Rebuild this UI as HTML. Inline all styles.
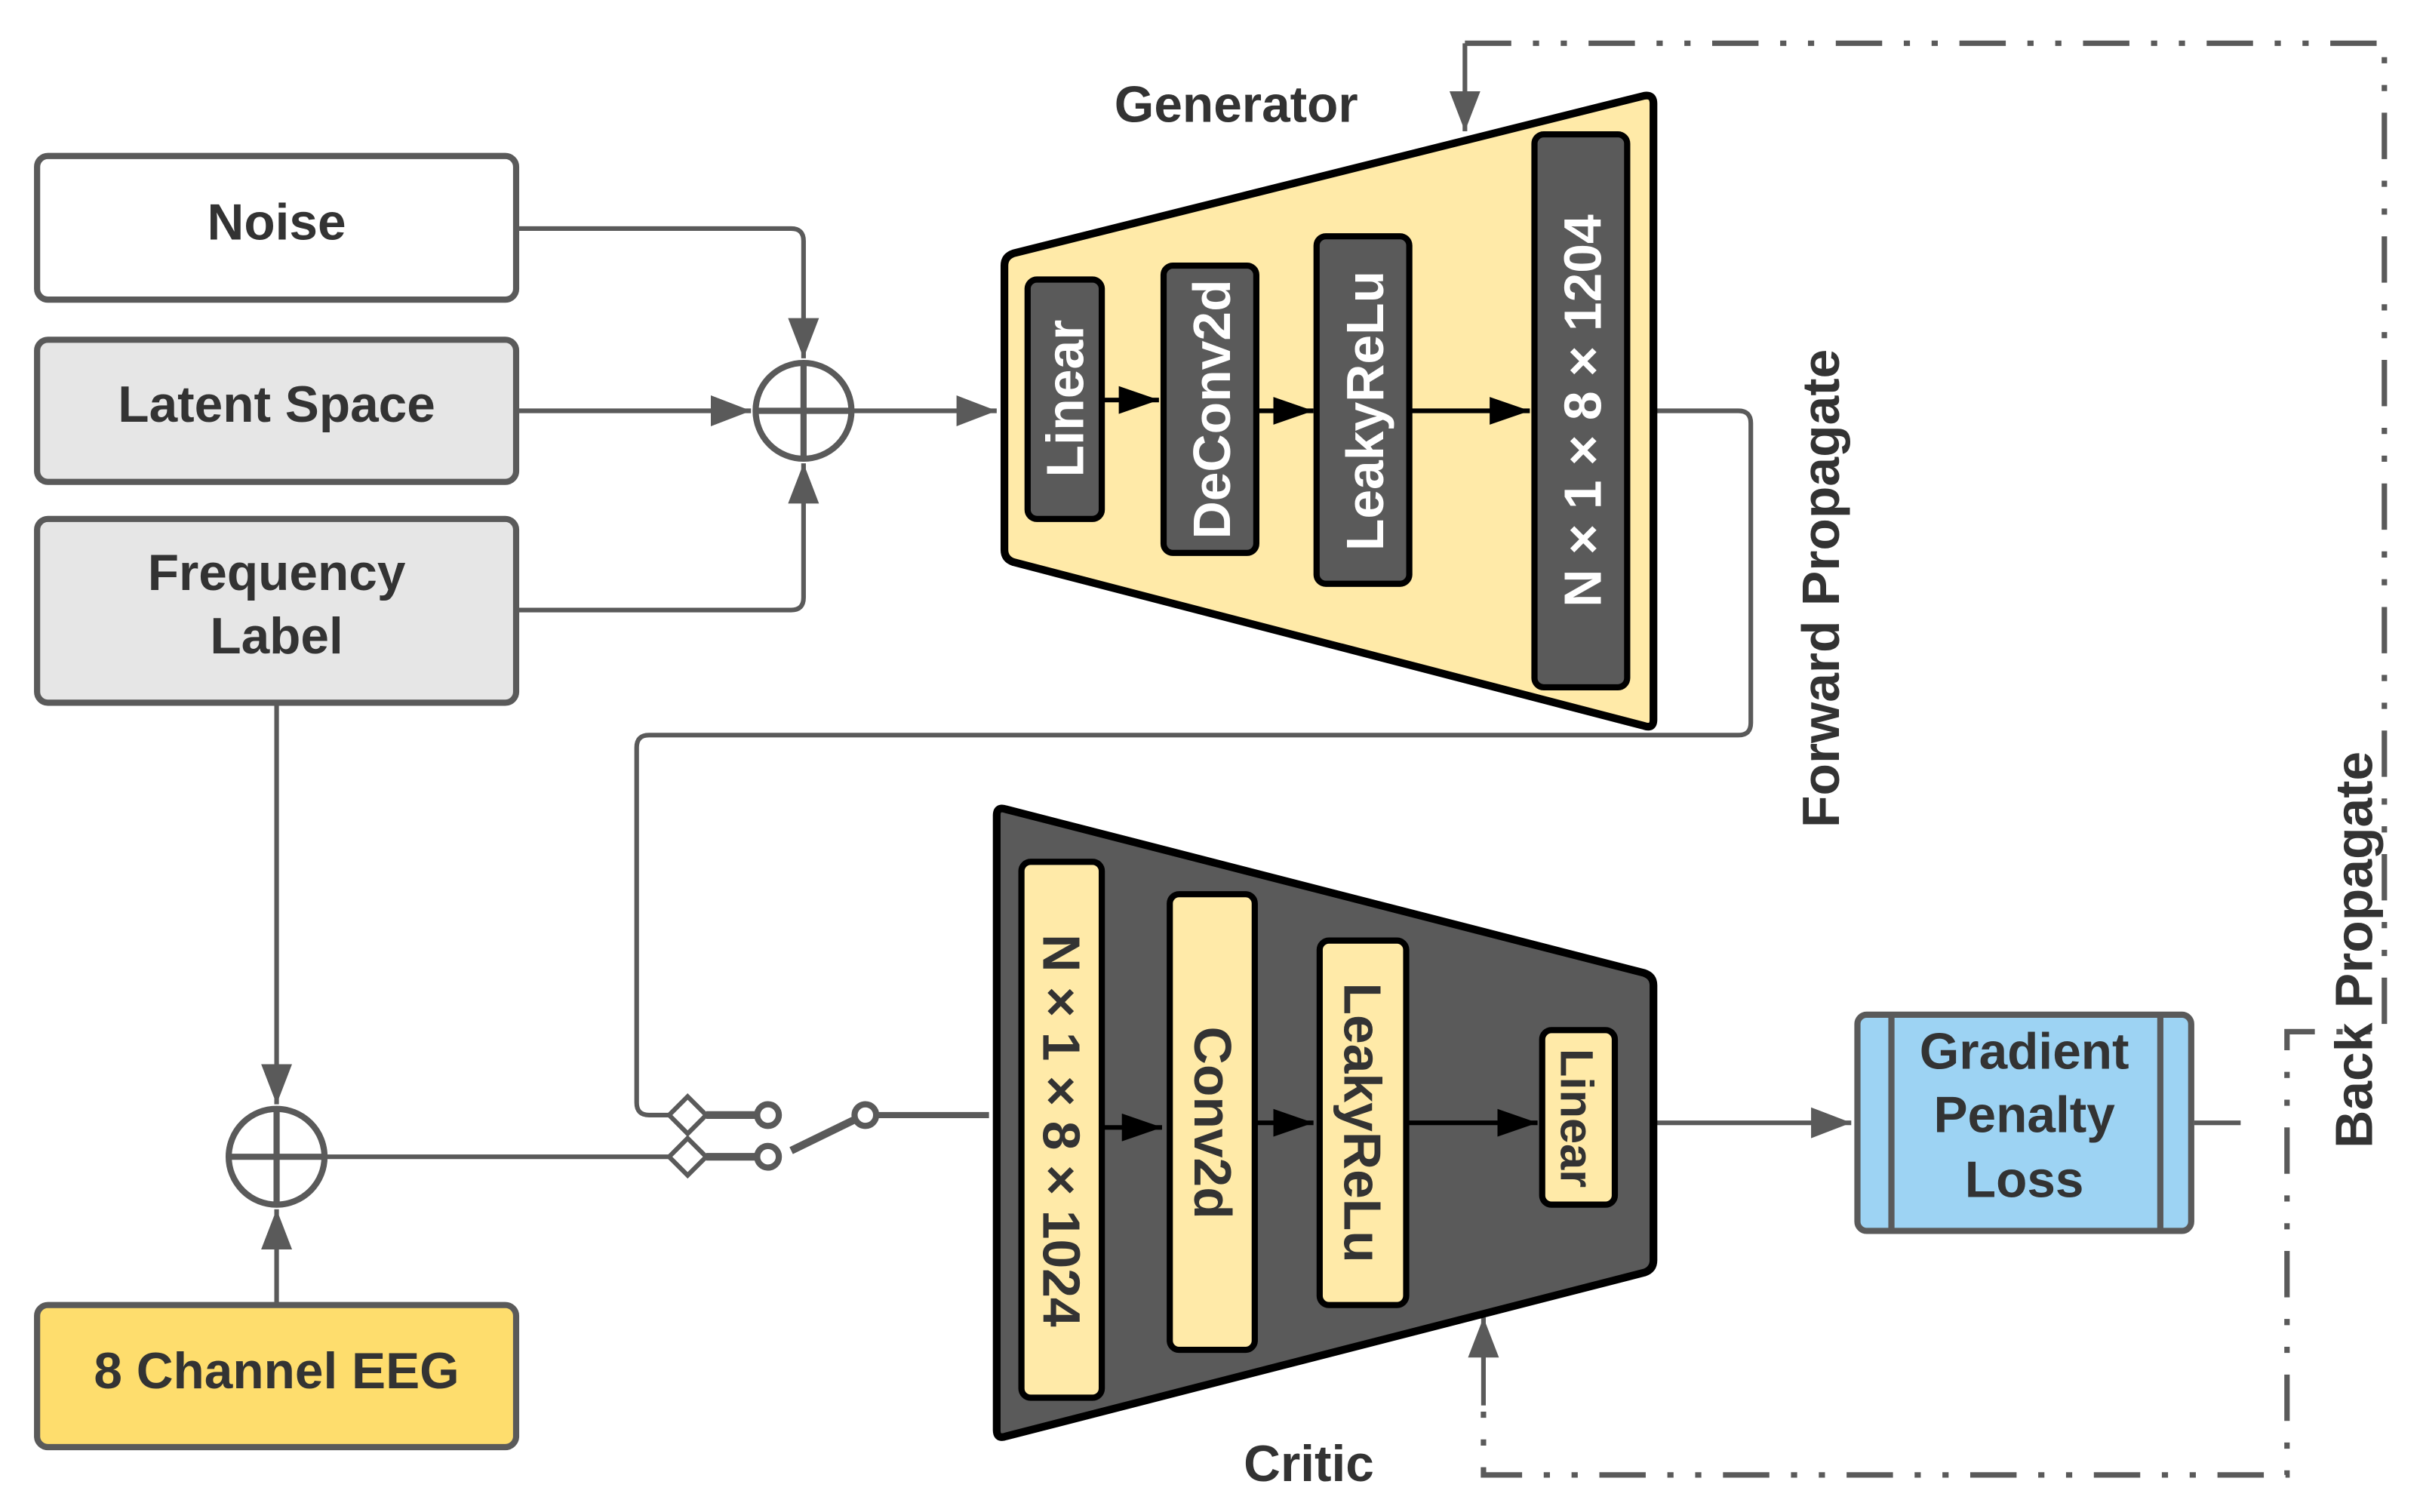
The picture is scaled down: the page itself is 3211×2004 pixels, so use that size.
<!DOCTYPE html>
<html><head><style>html,body{margin:0;padding:0;background:#fff}svg{display:block}</style></head>
<body>
<svg width="3211" height="2004" viewBox="0 0 1568 979" preserveAspectRatio="none" xmlns="http://www.w3.org/2000/svg" font-family="Liberation Sans, sans-serif" font-weight="bold">
<defs>
<marker id="ga" markerWidth="26" markerHeight="20" refX="26" refY="10" orient="auto" markerUnits="userSpaceOnUse"><path d="M0,0 L26,10 L0,20 z" fill="#5a5a5a"/></marker>
<marker id="ba" markerWidth="26" markerHeight="18" refX="26" refY="9" orient="auto" markerUnits="userSpaceOnUse"><path d="M0,0 L26,9 L0,18 z" fill="#000"/></marker>
</defs>
<g fill="none" stroke="#5a5a5a" stroke-width="3">
<path d="M334,148 H512 Q520,148 520,156 V232" marker-end="url(#ga)"/>
<path d="M334,266 H486" marker-end="url(#ga)"/>
<path d="M334,395 H512 Q520,395 520,387 V300" marker-end="url(#ga)"/>
<path d="M551,266 H645" marker-end="url(#ga)"/>
<path d="M1070,266 H1125 Q1133,266 1133,274 V468 Q1133,476 1125,476 H420 Q412,476 412,484 V714 Q412,722 420,722 H434"/>
<path d="M179,455 V715" marker-end="url(#ga)"/>
<path d="M179,845 V783" marker-end="url(#ga)"/>
<path d="M210,749 H434"/>
<path d="M1070,727 H1198" marker-end="url(#ga)"/>
<path d="M1420,727 H1450"/>
<path d="M948,28 V85" stroke-width="3" marker-end="url(#ga)"/>
<path d="M960,910 V853" marker-end="url(#ga)"/>
</g>
<path d="M948,28 H1543 V668 H1480 V955 H960 V910" fill="none" stroke="#5a5a5a" stroke-width="3.5" stroke-dasharray="30,14,4,14,4,14"/>
<rect x="24" y="101" width="310" height="93" rx="7" fill="#fff" stroke="#5a5a5a" stroke-width="4"/>
<rect x="24" y="220" width="310" height="92" rx="7" fill="#e6e6e6" stroke="#5a5a5a" stroke-width="4"/>
<rect x="24" y="336" width="310" height="119" rx="7" fill="#e6e6e6" stroke="#5a5a5a" stroke-width="4"/>
<rect x="24" y="845" width="310" height="92" rx="7" fill="#fedd6d" stroke="#5a5a5a" stroke-width="4"/>
<g fill="#333" font-size="33" text-anchor="middle">
<text x="179" y="155">Noise</text>
<text x="179" y="273">Latent Space</text>
<text x="179" y="382">Frequency</text>
<text x="179" y="423">Label</text>
<text x="179" y="899">8 Channel EEG</text>
<text x="800" y="79">Generator</text>
<text x="847" y="959">Critic</text>
</g>
<g fill="none" stroke="#5a5a5a" stroke-width="4">
<circle cx="520" cy="266" r="31"/><path d="M489,266 H551 M520,235 V297"/>
<circle cx="179" cy="749" r="31"/><path d="M148,749 H210 M179,718 V780"/>
</g>
<g fill="#fff" stroke="#5a5a5a" stroke-width="3">
<path d="M445,710 L457,722 L445,734 L433,722 z"/>
<path d="M445,737 L457,749 L445,761 L433,749 z"/>
<path d="M457,722 H490 M457,749 H490" stroke-width="5"/>
<circle cx="497" cy="722" r="7" stroke-width="4"/>
<circle cx="497" cy="749" r="7" stroke-width="4"/>
<path d="M512,745 L553,725" stroke-width="5"/>
<circle cx="560" cy="722" r="7" stroke-width="4"/>
<path d="M567,722 H640" stroke-width="4"/>
</g>
<path d="M650,172 Q650,166 656,164 L1064,62 Q1070,61 1070,67 V466 Q1070,472 1064,470 L656,364 Q650,362 650,356 z" fill="#ffeaa8" stroke="#000" stroke-width="5" stroke-linejoin="round"/>
<g fill="#5a5a5a" stroke="#000" stroke-width="4">
<rect x="665" y="181" width="48" height="155" rx="6"/>
<rect x="753" y="172" width="60" height="186" rx="6"/>
<rect x="852" y="153" width="60" height="225" rx="6"/>
<rect x="993" y="87" width="60" height="358" rx="6"/>
</g>
<g stroke="#000" stroke-width="3">
<path d="M713,259 H750" marker-end="url(#ba)"/>
<path d="M813,266 H850" marker-end="url(#ba)"/>
<path d="M912,266 H990" marker-end="url(#ba)"/>
</g>
<g fill="#fff" font-size="34" text-anchor="middle">
<text transform="translate(701,258) rotate(-90)">Linear</text>
<text transform="translate(796,265) rotate(-90)">DeConv2d</text>
<text transform="translate(895,266) rotate(-90)">LeakyReLu</text>
<text transform="translate(1036,266) rotate(-90)">N × 1 × 8 × 1204</text>
</g>
<path d="M645,528 Q645,522 651,524 L1064,630 Q1070,632 1070,638 V816 Q1070,822 1064,824 L651,930 Q645,932 645,926 z" fill="#5a5a5a" stroke="#000" stroke-width="5" stroke-linejoin="round"/>
<g fill="#ffeaa8" stroke="#000" stroke-width="4">
<rect x="661" y="558" width="52" height="347" rx="6"/>
<rect x="757" y="579" width="55" height="295" rx="6"/>
<rect x="854" y="609" width="56" height="236" rx="6"/>
<rect x="998" y="667" width="47" height="113" rx="6"/>
</g>
<g stroke="#000" stroke-width="3">
<path d="M713,730 H752" marker-end="url(#ba)"/>
<path d="M812,727 H850" marker-end="url(#ba)"/>
<path d="M910,727 H995" marker-end="url(#ba)"/>
</g>
<g fill="#333" font-size="34" text-anchor="middle">
<text transform="translate(675,732) rotate(90)">N × 1 × 8 × 1024</text>
<text transform="translate(773,727) rotate(90)">Conv2d</text>
<text transform="translate(870,727) rotate(90)">LeakyReLu</text>
<text transform="translate(1010,724) rotate(90)" font-size="30">Linear</text>
</g>
<rect x="1202" y="657" width="216" height="140" rx="6" fill="#9dd3f3" stroke="#5a5a5a" stroke-width="4"/>
<path d="M1224,657 V797 M1398,657 V797" stroke="#5a5a5a" stroke-width="4"/>
<g fill="#333" font-size="33" text-anchor="middle">
<text x="1310" y="692">Gradient</text>
<text x="1310" y="733">Penalty</text>
<text x="1310" y="775">Loss</text>
</g>
<g fill="#333" font-size="34" text-anchor="middle">
<text transform="translate(1190,381) rotate(-90)">Forward Propagate</text>
<text transform="translate(1535,615) rotate(-90)">Back Propagate</text>
</g>
</svg>
</body></html>
